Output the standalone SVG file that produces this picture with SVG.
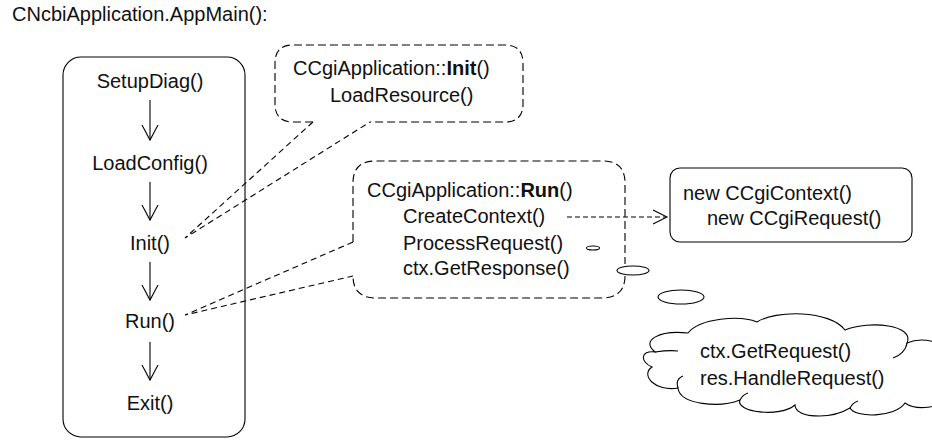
<svg xmlns="http://www.w3.org/2000/svg" width="932" height="440" viewBox="0 0 932 440">
<style>
text{font-family:"Liberation Sans",Arial,sans-serif;font-size:20px;fill:#111}
.mid{text-anchor:middle}
.b{font-weight:bold}
.solid{fill:none;stroke:#000;stroke-width:1.1}
.callout{fill:none;stroke:#000;stroke-width:1.1;stroke-dasharray:8 4}
.tail{fill:none;stroke:#000;stroke-width:1.1;stroke-dasharray:6 4}
.dash{fill:none;stroke:#000;stroke-width:1.1;stroke-dasharray:5 3}
.bubble{fill:#fff;stroke:#000;stroke-width:1.1}
</style>
<rect width="932" height="440" fill="#fff"/>
<text id="title" x="12" y="21">CNcbiApplication.AppMain():</text>

<g id="appmain">
<rect class="solid" x="63" y="57" width="182" height="380" rx="18"/>
<text class="mid" x="150" y="88">SetupDiag()</text>
<text class="mid" x="150" y="170">LoadConfig()</text>
<text class="mid" x="150" y="250">Init()</text>
<text class="mid" x="150" y="328">Run()</text>
<text class="mid" x="150" y="410">Exit()</text>
</g>

<g id="init-callout">
<path class="callout" d="M313,122 L293,122 Q275,122 275,104 L275,63 Q275,45 293,45 L505,45 Q523,45 523,63 L523,104 Q523,122 505,122 L370,122"/>
<text x="293" y="75">CCgiApplication::<tspan class="b">Init</tspan>()</text>
<text x="330" y="102">LoadResource()</text>
</g>

<g id="run-callout">
<path class="callout" d="M353,242 L353,183 Q353,161 375,161 L603,161 Q625,161 625,183 L625,264 M625,276 Q625,298 601,298 L376,298 Q353,298 353,276"/>
<text x="367" y="197">CCgiApplication::<tspan class="b">Run</tspan>()</text>
<text x="403" y="223">CreateContext()</text>
<text x="403" y="250">ProcessRequest()</text>
<text x="403" y="275">ctx.GetResponse()</text>
</g>

<g id="context-box">
<rect class="solid" x="670" y="168" width="242" height="74" rx="10"/>
<text x="683" y="200">new CCgiContext()</text>
<text x="707" y="225">new CCgiRequest()</text>
</g>

<g id="thought-bubbles">
<ellipse class="bubble" cx="593" cy="248" rx="6.5" ry="2"/>
<ellipse class="bubble" cx="633" cy="270.5" rx="16" ry="4.5"/>
<ellipse class="bubble" cx="681" cy="297" rx="23" ry="7"/>
</g>

<g id="cloud">
<path class="solid" d="M655,352 C640,340 660,330 688,333 C700,318 740,315 757,322 C775,310 830,310 845,330 C870,320 915,325 907,343 C925,335 945,345 950,350 L950,395 C940,410 915,410 905,403 C895,418 855,418 850,408 C830,420 795,418 795,405 C780,418 735,412 740,400 C720,408 680,405 678,388 C655,392 640,375 652,367 C640,362 640,350 655,352 Z"/>
<path class="solid" d="M655,352 C662,351 670,350 678,351 M678,388 C676,382 678,378 683,376 M740,400 C742,396 745,394 748,393 M850,408 C852,404 855,402 858,401 M907,343 C906,350 900,356 893,358"/>
<text x="700" y="358">ctx.GetRequest()</text>
<text x="700" y="385">res.HandleRequest()</text>
</g>

<g id="connectors">
<line class="solid" x1="150" y1="100" x2="150" y2="140"/>
<polyline class="solid" points="142,125 150,140 158,125"/>
<line class="solid" x1="150" y1="182" x2="150" y2="220"/>
<polyline class="solid" points="142,205 150,220 158,205"/>
<line class="solid" x1="150" y1="262" x2="150" y2="300"/>
<polyline class="solid" points="142,285 150,300 158,285"/>
<line class="solid" x1="150" y1="342" x2="150" y2="380"/>
<polyline class="solid" points="142,365 150,380 158,365"/>
<path class="tail" d="M313,122 L185,238 L370,122"/>
<path class="tail" d="M353,242 L185,315 L353,276"/>
<line class="dash" x1="567" y1="217" x2="666" y2="217"/>
<polyline class="solid" points="653,210 667,217 653,224"/>
</g>
</svg>
